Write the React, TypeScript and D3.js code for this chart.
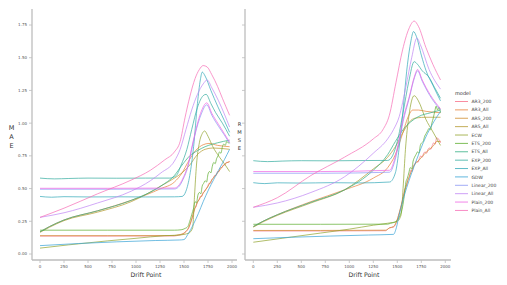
import React from 'react';
import * as d3 from 'd3';

type Pt = [number, number];

const models = [
  'AR3_200', 'AR3_All', 'AR5_200', 'AR5_All', 'ECW', 'ETS_200', 'ETS_All',
  'EXP_200', 'EXP_All', 'GDW', 'Linear_200', 'Linear_All', 'Plain_200', 'Plain_All',
];
const colors = [
  '#f77189', '#e7813a', '#cf8d31', '#b49a31', '#93a531', '#5fae31', '#34af85',
  '#36ada0', '#37aab9', '#3aa5d6', '#8c98f4', '#c087f4', '#ef66e3', '#f66fb6',
];
const xTicks = [0, 250, 500, 750, 1000, 1250, 1500, 1750, 2000];
const yTicks = [0, 0.25, 0.5, 0.75, 1.0, 1.25, 1.5, 1.75];

// ---- MAE panel ----
const MAE_AR3_200: Pt[] = [[0,0.137],[700,0.137],[1400,0.138],[1440,0.143],[1480,0.15],[1520,0.17],[1550,0.2],[1575,0.25],[1595,0.3],[1610,0.35],[1625,0.36],[1640,0.4],[1655,0.41],[1670,0.44],[1685,0.44],[1700,0.47],[1715,0.48],[1730,0.5],[1745,0.51],[1760,0.54],[1775,0.54],[1790,0.57],[1805,0.58],[1820,0.6],[1835,0.6],[1850,0.63],[1865,0.63],[1880,0.66],[1895,0.66],[1910,0.68],[1925,0.68],[1940,0.7],[1960,0.7],[1975,0.71]];
const MAE_AR3_All: Pt[] = [[0,0.17],[100,0.21],[250,0.26],[600,0.33],[950,0.41],[1260,0.5],[1400,0.55],[1480,0.62],[1540,0.7],[1620,0.79],[1700,0.835],[1760,0.845],[1850,0.83],[1975,0.82]];
const MAE_AR5_200: Pt[] = [[0,0.14],[700,0.14],[1400,0.141],[1440,0.146],[1480,0.153],[1520,0.172],[1550,0.205],[1575,0.255],[1595,0.305],[1615,0.35],[1640,0.395],[1670,0.43],[1700,0.465],[1730,0.495],[1760,0.53],[1790,0.565],[1820,0.595],[1850,0.62],[1880,0.65],[1910,0.675],[1940,0.695],[1975,0.705]];
const MAE_AR5_All: Pt[] = [[0,0.165],[100,0.205],[250,0.255],[600,0.32],[950,0.4],[1260,0.52],[1400,0.58],[1480,0.62],[1560,0.68],[1640,0.76],[1720,0.8],[1800,0.81],[1975,0.8]];
const MAE_ECW: Pt[] = [[0,0.045],[300,0.07],[700,0.1],[1000,0.12],[1300,0.14],[1450,0.145],[1550,0.16],[1590,0.2],[1610,0.45],[1630,0.68],[1660,0.85],[1690,0.92],[1715,0.94],[1750,0.9],[1800,0.82],[1870,0.74],[1930,0.68],[1975,0.63]];
const MAE_ETS_200: Pt[] = [[0,0.182],[700,0.182],[1400,0.182],[1470,0.185],[1510,0.195],[1540,0.21],[1560,0.25],[1580,0.3],[1600,0.35],[1615,0.4],[1630,0.39],[1645,0.45],[1660,0.47],[1675,0.46],[1690,0.52],[1705,0.54],[1720,0.56],[1735,0.55],[1750,0.61],[1765,0.63],[1780,0.62],[1795,0.67],[1810,0.7],[1825,0.69],[1840,0.73],[1855,0.75],[1870,0.78],[1885,0.77],[1900,0.82],[1915,0.84],[1930,0.83],[1945,0.86],[1960,0.85],[1975,0.85]];
const MAE_ETS_All: Pt[] = [[0,0.17],[100,0.21],[250,0.26],[600,0.33],[950,0.41],[1260,0.52],[1400,0.6],[1480,0.68],[1560,0.75],[1640,0.79],[1720,0.82],[1850,0.85],[1975,0.87]];
const MAE_EXP_200: Pt[] = [[0,0.58],[150,0.574],[300,0.577],[500,0.58],[800,0.579],[1100,0.58],[1350,0.58],[1420,0.6],[1470,0.68],[1530,0.8],[1580,0.95],[1640,1.12],[1700,1.21],[1730,1.22],[1780,1.15],[1830,1.08],[1900,1.0],[1975,0.9]];
const MAE_EXP_All: Pt[] = [[0,0.44],[120,0.434],[250,0.438],[500,0.436],[800,0.437],[1100,0.436],[1400,0.437],[1480,0.44],[1520,0.48],[1560,0.6],[1600,0.82],[1640,1.15],[1670,1.33],[1690,1.39],[1720,1.36],[1780,1.25],[1850,1.13],[1920,1.02],[1975,0.93]];
const MAE_GDW: Pt[] = [[0,0.064],[400,0.08],[800,0.093],[1200,0.103],[1450,0.107],[1500,0.11],[1540,0.15],[1600,0.23],[1650,0.31],[1700,0.4],[1755,0.49],[1810,0.57],[1860,0.64],[1920,0.72],[1975,0.8]];
const MAE_Linear_200: Pt[] = [[0,0.495],[700,0.495],[1400,0.497],[1440,0.51],[1490,0.57],[1545,0.68],[1580,0.8],[1614,0.91],[1680,1.07],[1737,1.14],[1790,1.06],[1860,0.975],[1920,0.91],[1975,0.845]];
const MAE_Linear_All: Pt[] = [[0,0.28],[250,0.315],[600,0.39],[950,0.48],[1150,0.56],[1260,0.62],[1400,0.71],[1460,0.8],[1520,0.95],[1580,1.1],[1640,1.22],[1700,1.3],[1740,1.33],[1790,1.27],[1860,1.17],[1920,1.07],[1975,0.97]];
const MAE_Plain_200: Pt[] = [[0,0.502],[700,0.502],[1400,0.504],[1440,0.52],[1490,0.58],[1545,0.69],[1580,0.81],[1614,0.92],[1680,1.09],[1737,1.155],[1790,1.075],[1860,0.99],[1920,0.92],[1975,0.855]];
const MAE_Plain_All: Pt[] = [[0,0.28],[250,0.35],[600,0.46],[950,0.565],[1150,0.64],[1300,0.72],[1400,0.78],[1460,0.86],[1510,1.04],[1560,1.2],[1615,1.34],[1660,1.41],[1700,1.44],[1740,1.43],[1790,1.37],[1850,1.28],[1900,1.19],[1975,1.06]];

// ---- RMSE panel ----
const RMSE_AR3_200: Pt[] = [[0,0.176],[700,0.176],[1380,0.178],[1400,0.19],[1420,0.2],[1460,0.205],[1490,0.24],[1520,0.31],[1545,0.38],[1565,0.45],[1580,0.5],[1595,0.52],[1610,0.57],[1625,0.59],[1640,0.64],[1655,0.63],[1670,0.68],[1685,0.69],[1700,0.71],[1715,0.7],[1730,0.73],[1745,0.75],[1760,0.74],[1775,0.77],[1790,0.78],[1805,0.77],[1820,0.8],[1835,0.81],[1850,0.8],[1865,0.83],[1880,0.85],[1895,0.84],[1910,0.89],[1925,0.88],[1940,0.87],[1950,0.85]];
const RMSE_AR3_All: Pt[] = [[0,0.21],[100,0.25],[250,0.3],[600,0.4],[950,0.49],[1250,0.58],[1400,0.66],[1480,0.76],[1555,0.92],[1620,1.06],[1660,1.1],[1720,1.1],[1800,1.09],[1950,1.08]];
const RMSE_AR5_200: Pt[] = [[0,0.18],[700,0.18],[1380,0.182],[1420,0.2],[1460,0.21],[1490,0.245],[1520,0.315],[1550,0.4],[1580,0.49],[1610,0.56],[1640,0.62],[1670,0.67],[1700,0.7],[1730,0.72],[1760,0.745],[1790,0.77],[1820,0.79],[1850,0.81],[1880,0.83],[1910,0.86],[1950,0.86]];
const RMSE_AR5_All: Pt[] = [[0,0.205],[100,0.245],[250,0.295],[600,0.39],[950,0.49],[1250,0.65],[1400,0.74],[1480,0.82],[1560,0.93],[1640,1.02],[1700,1.04],[1800,1.045],[1950,1.045]];
const RMSE_ECW: Pt[] = [[0,0.09],[300,0.12],[700,0.16],[1000,0.19],[1250,0.22],[1400,0.235],[1500,0.25],[1540,0.3],[1560,0.5],[1585,0.8],[1620,1.05],[1676,1.21],[1720,1.17],[1797,1.03],[1866,0.94],[1950,0.83]];
const RMSE_ETS_200: Pt[] = [[0,0.227],[700,0.227],[1400,0.228],[1430,0.235],[1460,0.24],[1490,0.25],[1520,0.28],[1545,0.33],[1560,0.38],[1575,0.46],[1590,0.55],[1605,0.58],[1620,0.62],[1635,0.66],[1650,0.65],[1665,0.71],[1680,0.74],[1695,0.76],[1710,0.78],[1725,0.77],[1740,0.83],[1755,0.85],[1770,0.86],[1785,0.9],[1800,0.92],[1815,0.94],[1830,0.96],[1845,0.95],[1860,1.0],[1875,1.04],[1890,1.09],[1905,1.13],[1920,1.1],[1935,1.12],[1950,1.08]];
const RMSE_ETS_All: Pt[] = [[0,0.21],[100,0.25],[250,0.3],[600,0.395],[950,0.49],[1250,0.64],[1400,0.76],[1480,0.86],[1560,0.95],[1640,1.01],[1720,1.05],[1850,1.08],[1950,1.1]];
const RMSE_EXP_200: Pt[] = [[0,0.713],[150,0.706],[300,0.71],[500,0.713],[800,0.712],[1100,0.714],[1400,0.715],[1450,0.75],[1500,0.86],[1560,1.08],[1620,1.32],[1676,1.47],[1710,1.45],[1760,1.4],[1831,1.35],[1890,1.27],[1950,1.19]];
const RMSE_EXP_All: Pt[] = [[0,0.545],[120,0.538],[250,0.544],[500,0.542],[800,0.545],[1100,0.543],[1420,0.55],[1480,0.62],[1540,0.95],[1606,1.45],[1640,1.62],[1669,1.7],[1700,1.66],[1750,1.52],[1800,1.4],[1870,1.29],[1950,1.17]];
const RMSE_GDW: Pt[] = [[0,0.117],[400,0.128],[800,0.137],[1200,0.145],[1460,0.15],[1490,0.2],[1520,0.3],[1570,0.44],[1624,0.565],[1680,0.68],[1727,0.77],[1770,0.85],[1814,0.92],[1880,1.01],[1950,1.09]];
const RMSE_Linear_200: Pt[] = [[0,0.617],[700,0.617],[1420,0.625],[1470,0.7],[1520,0.86],[1560,1.01],[1624,1.19],[1680,1.35],[1711,1.4],[1760,1.32],[1840,1.21],[1950,1.1]];
const RMSE_Linear_All: Pt[] = [[0,0.357],[250,0.39],[600,0.47],[950,0.59],[1250,0.77],[1400,0.88],[1460,0.95],[1520,1.05],[1590,1.28],[1650,1.5],[1704,1.65],[1740,1.6],[1831,1.41],[1950,1.26]];
const RMSE_Plain_200: Pt[] = [[0,0.63],[700,0.63],[1420,0.64],[1470,0.72],[1520,0.88],[1560,1.03],[1624,1.2],[1680,1.36],[1711,1.41],[1760,1.33],[1840,1.22],[1950,1.11]];
const RMSE_Plain_All: Pt[] = [[0,0.357],[250,0.43],[600,0.6],[950,0.74],[1250,0.88],[1350,0.95],[1417,1.06],[1486,1.31],[1555,1.56],[1620,1.72],[1676,1.78],[1720,1.74],[1797,1.58],[1870,1.45],[1950,1.33]];

const maeSeries = [MAE_AR3_200, MAE_AR3_All, MAE_AR5_200, MAE_AR5_All, MAE_ECW, MAE_ETS_200, MAE_ETS_All, MAE_EXP_200, MAE_EXP_All, MAE_GDW, MAE_Linear_200, MAE_Linear_All, MAE_Plain_200, MAE_Plain_All];
const rmseSeries = [RMSE_AR3_200, RMSE_AR3_All, RMSE_AR5_200, RMSE_AR5_All, RMSE_ECW, RMSE_ETS_200, RMSE_ETS_All, RMSE_EXP_200, RMSE_EXP_All, RMSE_GDW, RMSE_Linear_200, RMSE_Linear_All, RMSE_Plain_200, RMSE_Plain_All];

const FONT = '"DejaVu Sans", sans-serif';
const AXIS = '#bdbdbd';

const y = d3.scaleLinear().domain([0, 1.75]).range([254, 25]);

interface PanelProps {
  series: Pt[][];
  x0: number; // pixel of drift 0
  axisX: number;
  axisRight: number;
  showYLabels: boolean;
  yLabel: string;
  yLabelX: number;
  yLabelY: number;
  yLabelStep: number;
  xLabelX: number;
}

const Panel: React.FC<PanelProps> = (p) => {
  const x = d3.scaleLinear().domain([0, 2000]).range([p.x0, p.x0 + 192]);
  const line = d3.line<Pt>().x(d => x(d[0])).y(d => y(d[1])).curve(d3.curveMonotoneX);
  return (
    <g>
      {p.series.map((s, i) => (
        <path key={models[i]} d={line(s) || ''} fill="none" stroke={colors[i]}
          strokeWidth={0.9} strokeOpacity={0.8} />
      ))}
      {/* y axis */}
      <line x1={p.axisX} x2={p.axisX} y1={9} y2={260} stroke={AXIS} strokeWidth={1.3} />
      {yTicks.map(t => (
        <g key={t}>
          <line x1={p.axisX - 3} x2={p.axisX} y1={y(t)} y2={y(t)} stroke={AXIS} strokeWidth={0.8} />
          {p.showYLabels && (
            <text x={p.axisX - 5} y={y(t) + 1.4} fontSize={4} fill="#555" textAnchor="end" fontFamily={FONT}>
              {t.toFixed(2)}
            </text>
          )}
        </g>
      ))}
      {/* x axis */}
      <line x1={p.axisX} x2={p.axisRight} y1={260} y2={260} stroke={AXIS} strokeWidth={1.3} />
      {xTicks.map(t => (
        <g key={t}>
          <line x1={x(t)} x2={x(t)} y1={260} y2={263} stroke={AXIS} strokeWidth={0.8} />
          <text x={x(t)} y={267.5} fontSize={4} fill="#555" textAnchor="middle" fontFamily={FONT}>{t}</text>
        </g>
      ))}
      <text x={p.xLabelX} y={277} fontSize={6.2} fill="#333" textAnchor="middle" fontFamily={FONT}>Drift Point</text>
      {p.yLabel.split('').map((c, i) => (
        <text key={i} x={p.yLabelX} y={p.yLabelY + i * p.yLabelStep} fontSize={p.yLabelStep > 8.5 ? 6.5 : 5.2}
          fill="#333" textAnchor="middle" fontFamily={FONT}>{c}</text>
      ))}
    </g>
  );
};

export default function App() {
  return (
    <svg width={507} height={285} style={{ position: 'absolute', left: 0, top: 0, background: '#fff' }}>
      <Panel series={maeSeries} x0={40} axisX={32} axisRight={237} showYLabels yLabel="MAE"
        yLabelX={11.5} yLabelY={130} yLabelStep={9} xLabelX={146} />
      <Panel series={rmseSeries} x0={253.3} axisX={245} axisRight={451} showYLabels={false} yLabel="RMSE"
        yLabelX={239.5} yLabelY={126} yLabelStep={8.1} xLabelX={364} />
      {/* legend */}
      <text x={455} y={95} fontSize={5} fill="#333" fontFamily={FONT}>model</text>
      {models.map((m, i) => {
        const ly = 101.5 + i * 8.38;
        return (
          <g key={m}>
            <line x1={455} x2={468} y1={ly} y2={ly} stroke={colors[i]} strokeWidth={1} strokeOpacity={0.8} />
            <text x={471.5} y={ly + 1.6} fontSize={4.5} fill="#444" fontFamily={FONT}>{m}</text>
          </g>
        );
      })}
    </svg>
  );
}
